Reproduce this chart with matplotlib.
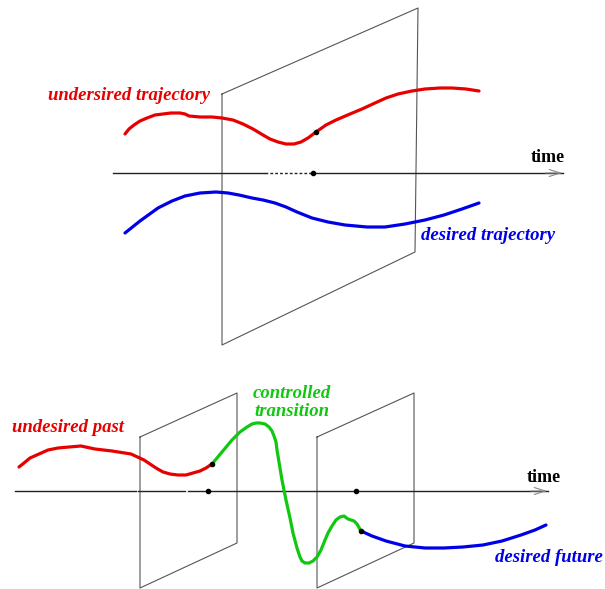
import numpy as np
from matplotlib import pyplot as plt

# figure is laid out in pixel coordinates (y grows downwards)
W, H = 605, 589

RED = "#e80000"
BLUE = "#0000e8"
GREEN = "#10c810"
PLANE = "#555555"

# ---- top panel ----
top_plane_x = [222, 418, 415, 222, 222]
top_plane_y = [94, 8, 252, 345, 94]

top_red_x = [125, 129, 134, 140, 147, 155, 163, 171, 180, 185, 189, 200, 212, 222, 233, 243, 253, 263, 270, 278, 286, 294, 301, 308, 316, 326, 336, 350, 362, 375, 386, 398, 412, 425, 440, 452, 466, 479]
top_red_y = [134, 129, 125, 121, 118, 115, 114, 113, 113, 114, 116, 117, 117, 118, 120, 124, 129, 135, 139, 142, 144, 144, 142, 138, 132, 125, 120, 114, 109, 103, 98, 94, 91, 89, 88, 88, 89, 91]

top_blue_x = [125, 140, 158, 172, 185, 200, 216, 228, 239, 252, 263, 275, 286, 297, 312, 328, 345, 367, 385, 405, 425, 444, 462, 479]
top_blue_y = [233, 221, 208, 201, 196, 193, 192, 193, 195, 198, 200, 203, 207, 212, 218, 222, 225, 227, 227, 224, 220, 215, 209, 203]

top_axis_y = 173
top_axis_solid = [(113, 265), (310, 563)]
top_axis_dash = (265, 310)
top_dot = [(313, 173), (316, 132)]

# ---- bottom panel ----
plane1_x = [140, 237, 237, 140, 140]
plane1_y = [437, 393, 543, 588, 437]
plane2_x = [317, 414, 414, 317, 317]
plane2_y = [437, 393, 543, 588, 437]

bot_red_x = [19, 24, 30, 39, 48, 58, 69, 81, 95, 112, 131, 144, 150, 156, 163, 170, 178, 186, 193, 200, 206, 212]
bot_red_y = [467, 463, 458, 454, 450, 448, 447, 446, 449, 451, 454, 460, 464, 468, 472, 474, 475, 475, 473, 471, 468, 464]

green_x = [212, 222, 232, 240, 247, 252, 256, 260, 265, 269, 272, 274, 276, 277, 279, 282, 286, 290, 293, 297, 300, 302, 305, 309, 313, 317, 321, 325, 328, 332, 336, 340, 344, 348, 351, 354, 357, 361]
green_y = [464, 452, 440, 432, 427, 424, 423, 423, 424, 427, 431, 436, 442, 450, 462, 480, 500, 518, 533, 548, 557, 561, 563, 563, 561, 557, 550, 540, 533, 526, 520, 517, 516, 519, 520, 521, 524, 531]

bot_blue_x = [361, 372, 386, 405, 425, 444, 463, 483, 502, 521, 535, 546]
bot_blue_y = [531, 536, 541, 546, 548, 548, 547, 545, 541, 535, 530, 525]

bot_axis_y = 491
bot_axis_solid = [(15, 136), (138, 185), (188, 548)]
bot_dots = [(208, 491), (356, 491), (212, 464), (361, 531)]

labels = [
    ("undersired trajectory", 129, 96, RED),
    ("desired trajectory", 488, 236, BLUE),
    ("undesired past", 68, 428, RED),
    ("controlled", 292, 394, GREEN),
    ("transition", 292, 411, GREEN),
    ("desired future", 549, 557, BLUE),
]
time_labels = [(548, 158), (544, 478)]


fig = plt.figure(figsize=(W / 100, H / 100), dpi=100)
ax = fig.add_axes([0, 0, 1, 1])
ax.set_xlim(0, W)
ax.set_ylim(H, 0)
ax.axis("off")

# planes
for px, py in [(top_plane_x, top_plane_y), (plane1_x, plane1_y), (plane2_x, plane2_y)]:
    ax.plot(px, py, color=PLANE, lw=0.8, zorder=1)

# time axes
for a, b in top_axis_solid:
    ax.plot([a, b], [top_axis_y, top_axis_y], color="#222222", lw=1.0, zorder=2)
ax.plot(list(top_axis_dash), [top_axis_y, top_axis_y], color="#222222", lw=1.0,
        ls=(0, (2, 1.5)), zorder=2)
for a, b in bot_axis_solid:
    ax.plot([a, b], [bot_axis_y, bot_axis_y], color="#222222", lw=1.0, zorder=2)

for xe, ye in [(top_axis_solid[-1][1], top_axis_y), (bot_axis_solid[-1][1], bot_axis_y)]:
    ax.annotate("", xy=(xe + 2, ye), xytext=(xe - 20, ye),
                arrowprops=dict(arrowstyle="->,head_length=0.8,head_width=0.25",
                                color="#888888", lw=0.8), zorder=2)

# trajectories
kw = dict(lw=2.3, solid_capstyle="round", solid_joinstyle="round", zorder=3)
ax.plot(top_red_x, top_red_y, color=RED, **kw)
ax.plot(top_blue_x, top_blue_y, color=BLUE, **kw)
ax.plot(bot_red_x, bot_red_y, color=RED, **kw)
ax.plot(green_x, green_y, color=GREEN, **kw)
ax.plot(bot_blue_x, bot_blue_y, color=BLUE, **kw)

for dx, dy in top_dot + bot_dots:
    ax.plot(dx, dy, "o", color="black", ms=3, zorder=4)

for txt, tx, ty, col in labels:
    ax.text(tx, ty, txt, color=col, fontsize=13.5, family="Liberation Serif",
            fontweight="bold", fontstyle="italic", ha="center", va="center",
            zorder=5)
for tx, ty in time_labels:
    ax.text(tx, ty, "time", color="black", fontsize=13, family="Liberation Serif",
            fontweight="bold", ha="center", va="center", zorder=5)

plt.savefig("out.png", dpi=100)
